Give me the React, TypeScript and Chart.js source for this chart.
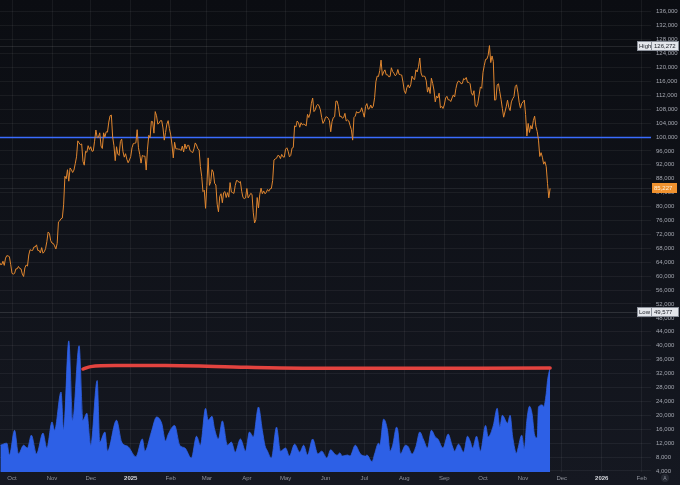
import { useEffect, useRef } from "react";
import { Chart, registerables } from "chart.js";

Chart.register(...registerables);

// Daily closes in thousands of USD, first value on seriesStart.
const seriesStart = "2024-09-21";
const dailyClose = [
  // Sep 2024 (21-30)
  63.3, 63.6, 63.3, 64.3, 63.1, 65.2, 65.9, 65.8, 65.6, 63.3,
  // Oct 2024
  60.8, 60.6, 60.8, 62.1, 62.1, 62.8, 62.2, 62.1, 60.6, 59.9,
  62.4, 63.2, 62.9, 66.1, 67.6, 67.4, 67.4, 68.4, 68.4, 69.0,
  67.4, 67.4, 66.7, 68.2, 66.6, 67.0, 67.9, 69.9, 72.7, 72.3, 70.2,
  // Nov 2024
  69.5, 69.4, 68.7, 67.8, 69.4, 75.6, 75.9, 76.5, 76.7, 80.5,
  88.7, 88.0, 90.6, 87.3, 91.1, 90.6, 89.8, 90.5, 92.3, 94.3,
  98.9, 98.3, 97.8, 98.0, 93.0, 91.9, 95.9, 95.6, 97.5, 96.4,
  // Dec 2024
  97.2, 95.9, 96.0, 98.8, 102.0, 99.9, 99.9, 101.2, 97.4, 96.7,
  101.2, 100.0, 101.5, 101.4, 104.3, 106.1, 106.3, 100.0, 97.5, 93.2,
  97.2, 95.1, 94.7, 98.7, 99.4, 95.8, 94.2, 95.2, 93.6, 92.6, 93.4,
  // Jan 2025
  94.4, 96.9, 98.1, 98.2, 98.3, 102.1, 96.9, 95.0, 92.5, 94.7,
  94.5, 94.5, 90.5, 96.5, 100.5, 99.8, 104.5, 104.4, 101.1, 107.3,
  106.1, 103.7, 104.0, 104.7, 104.7, 102.6, 99.1, 101.3, 103.7, 104.7, 102.4,
  // Feb 2025
  100.6, 97.7, 94.0, 98.5, 96.6, 96.6, 96.5, 96.5, 96.1, 97.4,
  95.7, 98.0, 96.6, 97.6, 97.6, 96.1, 95.8, 95.5, 96.6, 98.3,
  97.7, 96.6, 96.3, 91.5, 88.7, 84.3, 84.7, 79.5,
  // Mar 2025
  86.0, 94.0, 86.1, 87.2, 90.6, 89.9, 86.7, 86.2, 80.7, 78.5,
  82.9, 83.7, 81.1, 84.0, 84.3, 82.6, 84.0, 82.7, 86.9, 84.2,
  84.0, 83.8, 86.1, 87.5, 87.4, 86.9, 87.2, 84.4, 82.6, 82.3, 82.5,
  // Apr 2025
  85.2, 82.5, 83.1, 83.8, 83.5, 78.2, 75.3, 76.3, 82.6, 79.6,
  83.4, 85.3, 83.7, 84.5, 83.7, 84.0, 84.9, 84.4, 85.1, 85.2,
  87.5, 93.4, 93.7, 93.9, 94.7, 94.6, 93.8, 95.0, 94.3, 94.2,
  // May 2025
  96.5, 96.9, 95.9, 94.3, 94.7, 96.8, 97.0, 103.2, 102.9, 104.6,
  104.1, 102.8, 104.1, 103.5, 103.7, 103.5, 103.2, 106.5, 105.6, 106.8,
  109.7, 111.2, 107.3, 107.8, 109.0, 109.4, 108.9, 107.8, 105.6, 103.9, 104.6,
  // Jun 2025
  105.7, 105.8, 105.4, 104.7, 101.5, 104.4, 105.6, 105.8, 110.3, 110.3,
  108.7, 105.9, 106.0, 105.4, 105.6, 106.8, 104.6, 104.9, 104.6, 103.3,
  102.1, 99.1, 105.6, 106.0, 107.3, 106.9, 107.1, 107.3, 108.4, 107.1,
  // Jul 2025
  105.7, 108.8, 109.6, 108.0, 108.2, 109.2, 108.3, 108.9, 111.3, 115.9,
  117.5, 117.4, 119.1, 122.1, 117.7, 118.7, 119.3, 117.9, 117.9, 117.3,
  117.4, 119.9, 118.8, 118.3, 117.6, 118.0, 119.4, 118.0, 117.9, 117.8, 115.8,
  // Aug 2025
  113.3, 112.5, 114.2, 115.0, 114.1, 115.0, 117.5, 116.7, 116.5, 119.3,
  118.7, 120.2, 122.7, 118.4, 117.4, 117.5, 117.4, 116.2, 112.9, 114.3,
  112.5, 116.9, 115.4, 113.5, 110.1, 111.8, 111.2, 112.6, 108.4, 108.8, 108.2,
  // Sep 2025
  109.2, 111.2, 111.7, 110.7, 110.7, 110.2, 111.2, 112.1, 111.5, 113.9,
  115.5, 116.1, 115.9, 115.3, 115.4, 116.8, 116.5, 117.1, 115.7, 115.7,
  115.3, 112.7, 112.0, 113.3, 109.0, 108.7, 109.7, 112.1, 114.4, 114.0,
  // Oct 2025
  118.6, 120.6, 122.3, 122.4, 123.5, 126.272, 121.4, 123.3, 121.7, 110.6,
  110.7, 115.0, 115.3, 113.0, 110.8, 108.2, 105.7, 107.2, 108.7, 110.6,
  108.5, 107.6, 110.1, 111.0, 111.6, 114.5, 115.0, 112.9, 110.0, 108.3, 109.6,
  // Nov 2025 (1-22)
  110.1, 110.6, 106.5, 100.3, 103.9, 101.3, 103.3, 102.3, 104.7, 106.0,
  103.0, 101.6, 99.1, 94.4, 95.5, 94.2, 92.2, 92.9, 91.5, 86.6,
  82.5, 85.227,
];

// Lower study, thousands.
const activity: [string, number][] = [
  ["2024-09-22", 11.4], ["2024-09-27", 12.0], ["2024-09-29", 8.6],
  ["2024-10-03", 15.7], ["2024-10-06", 8.9], ["2024-10-10", 11.4], ["2024-10-13", 10.6],
  ["2024-10-16", 14.3], ["2024-10-20", 8.9], ["2024-10-25", 14.9], ["2024-10-28", 10.6],
  ["2024-11-01", 18.1], ["2024-11-03", 15.7], ["2024-11-08", 26.7], ["2024-11-10", 15.7],
  ["2024-11-14", 41.4], ["2024-11-17", 18.6], ["2024-11-22", 40.0], ["2024-11-25", 18.6],
  ["2024-11-28", 20.6], ["2024-12-01", 11.4], ["2024-12-06", 30.0], ["2024-12-08", 12.3],
  ["2024-12-12", 15.2], ["2024-12-14", 9.7], ["2024-12-21", 18.6], ["2024-12-25", 12.3],
  ["2024-12-30", 11.0], ["2025-01-05", 8.1], ["2025-01-10", 13.2], ["2025-01-12", 9.7],
  ["2025-01-17", 15.2], ["2025-01-21", 19.5], ["2025-01-25", 17.7], ["2025-01-28", 12.6],
  ["2025-01-30", 14.5], ["2025-02-04", 17.1], ["2025-02-08", 11.4], ["2025-02-12", 10.6],
  ["2025-02-17", 7.7], ["2025-02-21", 14.0], ["2025-02-24", 11.4], ["2025-02-28", 22.0],
  ["2025-03-02", 18.6], ["2025-03-05", 19.7], ["2025-03-07", 16.0], ["2025-03-10", 13.2],
  ["2025-03-13", 18.4], ["2025-03-17", 11.4], ["2025-03-20", 12.3], ["2025-03-23", 9.4],
  ["2025-03-27", 13.2], ["2025-03-31", 9.7], ["2025-04-03", 15.2], ["2025-04-06", 13.8],
  ["2025-04-10", 22.4], ["2025-04-13", 15.7], ["2025-04-15", 11.4], ["2025-04-17", 9.7],
  ["2025-04-20", 7.7], ["2025-04-24", 16.6], ["2025-04-27", 9.7], ["2025-05-01", 10.6],
  ["2025-05-04", 8.3], ["2025-05-08", 11.7], ["2025-05-12", 9.4], ["2025-05-15", 11.4],
  ["2025-05-18", 8.6], ["2025-05-22", 13.2], ["2025-05-26", 8.9], ["2025-05-29", 9.7],
  ["2025-06-02", 7.7], ["2025-06-05", 10.1], ["2025-06-08", 8.9], ["2025-06-10", 8.5],
  ["2025-06-12", 9.2], ["2025-06-14", 8.3], ["2025-06-18", 8.6], ["2025-06-20", 8.3],
  ["2025-06-24", 11.4], ["2025-06-28", 8.9], ["2025-07-02", 8.3], ["2025-07-03", 8.6],
  ["2025-07-07", 6.7], ["2025-07-09", 8.9], ["2025-07-12", 12.0], ["2025-07-13", 11.4],
  ["2025-07-16", 18.9], ["2025-07-19", 15.7], ["2025-07-21", 9.7], ["2025-07-23", 11.4],
  ["2025-07-26", 16.6], ["2025-07-27", 15.7], ["2025-07-29", 8.9], ["2025-08-02", 11.4],
  ["2025-08-04", 11.0], ["2025-08-07", 8.9], ["2025-08-10", 11.0], ["2025-08-13", 15.2],
  ["2025-08-16", 12.9], ["2025-08-19", 10.6], ["2025-08-22", 15.7], ["2025-08-25", 13.8],
  ["2025-08-27", 13.2], ["2025-08-31", 10.6], ["2025-09-04", 14.6], ["2025-09-07", 11.4],
  ["2025-09-09", 9.7], ["2025-09-12", 11.7], ["2025-09-16", 9.4], ["2025-09-19", 14.0],
  ["2025-09-21", 12.6], ["2025-09-23", 10.6], ["2025-09-26", 14.0], ["2025-09-29", 9.7],
  ["2025-10-03", 17.1], ["2025-10-05", 13.8], ["2025-10-09", 17.1], ["2025-10-12", 22.0],
  ["2025-10-14", 16.6], ["2025-10-16", 20.0], ["2025-10-20", 17.7], ["2025-10-22", 20.0],
  ["2025-10-24", 13.8], ["2025-10-27", 9.1], ["2025-10-28", 10.3], ["2025-10-31", 14.3],
  ["2025-11-02", 10.3], ["2025-11-04", 18.6], ["2025-11-06", 22.6], ["2025-11-08", 20.5],
  ["2025-11-10", 14.3], ["2025-11-12", 13.5], ["2025-11-13", 22.4], ["2025-11-16", 23.0],
  ["2025-11-17", 22.4], ["2025-11-19", 26.3], ["2025-11-20", 30.0], ["2025-11-22", 33.8],
];

// Red reference line, thousands.
const avgLevel: [string, number][] = [
  ["2024-11-25", 33.3], ["2024-12-01", 34.0], ["2024-12-20", 34.3], ["2025-01-28", 34.3],
  ["2025-04-01", 33.8], ["2025-06-10", 33.5], ["2025-11-22", 33.6],
];

const monthStarts = [
  "2024-10-01", "2024-11-01", "2024-12-01", "2025-01-01", "2025-02-01", "2025-03-01",
  "2025-04-01", "2025-05-01", "2025-06-01", "2025-07-01", "2025-08-01", "2025-09-01",
  "2025-10-01", "2025-11-01", "2025-12-01", "2026-01-01", "2026-02-01",
];
const monthLabels = [
  "Oct", "Nov", "Dec", "2025", "Feb", "Mar", "Apr", "May", "Jun",
  "Jul", "Aug", "Sep", "Oct", "Nov", "Dec", "2026", "Feb",
];

const priceLevels = [
  4, 8, 12, 16, 20, 24, 28, 32, 36, 40, 44, 48, 52, 56, 60, 64, 68, 72, 76, 80, 84, 88,
  92, 96, 100, 104, 108, 112, 116, 120, 124, 128, 132, 136,
];

const rangeLow = 49.577;
const roundLevel = 100;

const W = 680;
const H = 485;
const AXIS_W = 29;
const AXIS_H = 13;
const FONT = "'Liberation Sans', Arial, sans-serif";

const DAY = 86400000;
const ORIGIN = Date.UTC(2024, 9, 1);
const dayOf = (iso: string) => (Date.parse(iso + "T00:00:00Z") - ORIGIN) / DAY;

const X_MIN = -9.3;
const X_MAX = 495.19;
const Y_MIN = 3.71;
const Y_MAX = 139.38;

const fmt = (v: number) => Math.round(v * 1000).toLocaleString("en-US");

export default function App() {
  const ref = useRef<HTMLCanvasElement | null>(null);

  useEffect(() => {
    document.body.style.margin = "0";
    const canvas = ref.current;
    if (!canvas) return;

    const startDay = dayOf(seriesStart);
    const pricePts = dailyClose.map((v, i) => ({ x: startDay + i, y: v }));
    const actPts = activity.map(([d, v]) => ({ x: dayOf(d), y: v }));
    const avgPts = avgLevel.map(([d, v]) => ({ x: dayOf(d), y: v }));
    const high = Math.max(...dailyClose);
    const last = dailyClose[dailyClose.length - 1];

    const backdrop = {
      id: "backdrop",
      beforeDraw(chart: any) {
        const { ctx } = chart;
        const g = ctx.createLinearGradient(0, 0, 0, H);
        g.addColorStop(0, "#0b0d12");
        g.addColorStop(1, "#151821");
        ctx.save();
        ctx.fillStyle = g;
        ctx.fillRect(0, 0, W, H);
        ctx.restore();
      },
    };

    const levels = {
      id: "levels",
      beforeDatasetsDraw(chart: any) {
        const { ctx, chartArea: a, scales } = chart;
        const y = scales.y;
        ctx.save();
        const hline = (v: number, color: string, w: number) => {
          const py = Math.round(y.getPixelForValue(v)) + 0.5;
          ctx.strokeStyle = color;
          ctx.lineWidth = w;
          ctx.beginPath();
          ctx.moveTo(a.left, py);
          ctx.lineTo(a.right, py);
          ctx.stroke();
        };
        hline(high, "rgba(255,255,255,0.10)", 1);
        hline(last, "rgba(255,255,255,0.08)", 1);
        hline(rangeLow, "rgba(255,255,255,0.12)", 1);
        hline(roundLevel, "#3a6cff", 1.4);
        ctx.restore();
      },
    };

    const tags = {
      id: "tags",
      afterDraw(chart: any) {
        const { ctx, scales } = chart;
        const y = scales.y;
        ctx.save();
        ctx.font = `6px ${FONT}`;
        ctx.textBaseline = "middle";
        const tag = (name: string, v: number) => {
          const cy = Math.round(y.getPixelForValue(v));
          const x0 = 637;
          const x1 = 679;
          ctx.fillStyle = "#e4e6eb";
          ctx.fillRect(x0, cy - 5, x1 - x0, 10);
          ctx.strokeStyle = "#8a8f99";
          ctx.lineWidth = 1;
          ctx.strokeRect(x0 + 0.5, cy - 4.5, x1 - x0 - 1, 9);
          ctx.beginPath();
          ctx.moveTo(651.5, cy - 4);
          ctx.lineTo(651.5, cy + 4);
          ctx.stroke();
          ctx.fillStyle = "#1b1e26";
          ctx.textAlign = "left";
          ctx.fillText(name, x0 + 2, cy + 0.5);
          ctx.fillText(fmt(v), 654, cy + 0.5);
        };
        tag("High", high);
        tag("Low", rangeLow);

        const py = Math.round(y.getPixelForValue(last));
        ctx.fillStyle = "#f0922f";
        ctx.fillRect(652, py - 5, 25, 10);
        ctx.fillStyle = "#fff1dc";
        ctx.textAlign = "left";
        ctx.fillText(fmt(last), 654, py + 0.5);

        // auto-scale badge
        ctx.fillStyle = "#262a34";
        ctx.beginPath();
        ctx.arc(665, 478, 4, 0, Math.PI * 2);
        ctx.fill();
        ctx.fillStyle = "#8c909a";
        ctx.font = `5px ${FONT}`;
        ctx.textAlign = "center";
        ctx.fillText("A", 665, 478.5);
        ctx.restore();
      },
    };

    const gridColor = "rgba(255,255,255,0.055)";

    const chart = new Chart(canvas, {
      type: "line",
      data: {
        datasets: [
          {
            data: pricePts,
            borderColor: "#e0862f",
            borderWidth: 1,
            pointRadius: 0,
            tension: 0,
            fill: false,
          },
          {
            data: avgPts,
            borderColor: "#e2433f",
            borderWidth: 3.5,
            borderCapStyle: "round",
            pointRadius: 0,
            cubicInterpolationMode: "monotone",
            fill: false,
          },
          {
            data: actPts,
            borderColor: "#2d60e6",
            backgroundColor: "#2d60e6",
            borderWidth: 0.8,
            pointRadius: 0,
            cubicInterpolationMode: "monotone",
            fill: "start",
          },
        ],
      } as any,
      options: {
        responsive: false,
        animation: false,
        events: [],
        layout: { padding: 0, autoPadding: false } as any,
        plugins: {
          legend: { display: false },
          tooltip: { enabled: false },
        },
        scales: {
          x: {
            type: "linear",
            position: "bottom",
            min: X_MIN,
            max: X_MAX,
            afterBuildTicks: (s: any) => {
              s.ticks = monthStarts.map((d) => ({ value: dayOf(d) }));
            },
            afterFit: (s: any) => {
              s.height = AXIS_H;
              s.paddingLeft = 0;
              s.paddingRight = 0;
            },
            ticks: {
              autoSkip: false,
              maxRotation: 0,
              padding: 3,
              callback: (v: any) => {
                const i = monthStarts.findIndex((d) => Math.abs(dayOf(d) - v) < 0.01);
                return i >= 0 ? monthLabels[i] : "";
              },
              color: (c: any) => (/^\d{4}$/.test(c.tick?.label) ? "#d6d8de" : "#8e919a"),
              font: (c: any) => ({
                size: 6,
                family: FONT,
                weight: /^\d{4}$/.test(c.tick?.label) ? "bold" : "normal",
              }),
            },
            grid: { color: gridColor, drawTicks: false, tickLength: 0 },
            border: { display: false },
          },
          y: {
            type: "linear",
            position: "right",
            min: Y_MIN,
            max: Y_MAX,
            afterBuildTicks: (s: any) => {
              s.ticks = priceLevels.map((v) => ({ value: v }));
            },
            afterFit: (s: any) => {
              s.width = AXIS_W;
              s.paddingTop = 0;
              s.paddingBottom = 0;
            },
            ticks: {
              autoSkip: false,
              padding: 5,
              callback: (v: any) => fmt(Number(v)),
              color: "#a4a7b0",
              font: { size: 6, family: FONT },
            },
            grid: { color: gridColor, drawTicks: false, tickLength: 0 },
            border: { display: false },
          },
        },
      } as any,
      plugins: [backdrop, levels, tags],
    });

    return () => chart.destroy();
  }, []);

  return (
    <div style={{ width: W, height: H, background: "#0f1117" }}>
      <canvas ref={ref} width={W} height={H} style={{ display: "block" }} />
    </div>
  );
}
